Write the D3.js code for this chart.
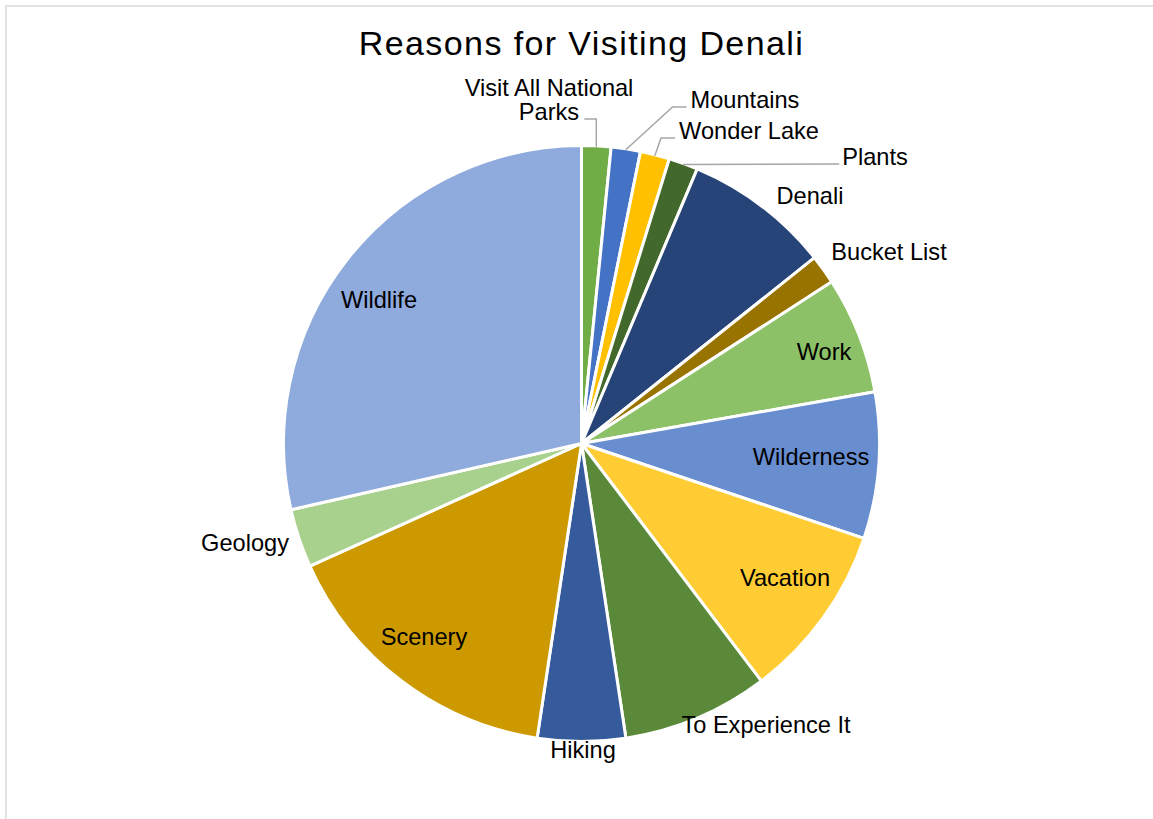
<!DOCTYPE html>
<html>
<head>
<meta charset="utf-8">
<script src="https://cdn.jsdelivr.net/npm/d3@7"></script>
<style>
  html, body { margin: 0; padding: 0; background: #fff; }
  svg { display: block; font-family: "Liberation Sans", Arial, Helvetica, sans-serif; }
</style>
</head>
<body>
<svg id="chart" width="1153" height="819"></svg>
<script>
// Survey responses: why people visit Denali (counts, clockwise from 12 o'clock)
const reasons = [
  "Visit All National Parks", "Mountains", "Wonder Lake", "Plants", "Denali",
  "Bucket List", "Work", "Wilderness", "Vacation", "To Experience It",
  "Hiking", "Scenery", "Geology", "Wildlife"
];
const counts = [1, 1, 1, 1, 5, 1, 4, 5, 6, 5, 3, 10, 2, 18];
const sliceColors = [
  "#70AD47", "#4472C4", "#FFC000", "#43682B", "#264478",
  "#997300", "#8CC168", "#698ED0", "#FFCD33", "#5A8A39",
  "#365B9D", "#CC9A00", "#A9D18E", "#8FAADC"
];
const chartTitle = "Reasons for Visiting Denali";

// Label placement (text centre x, baseline y) and whether a leader line is drawn
const labelLayout = {
  "Visit All National Parks": { x: 549, y: 96, lines: ["Visit All National", "Parks"], leader: "elbow-left" },
  "Mountains":   { x: 745, y: 108, leader: "elbow-right" },
  "Wonder Lake": { x: 749, y: 139, leader: "elbow-right" },
  "Plants":      { x: 875, y: 165, leader: "straight" },
  "Denali":      { x: 810, y: 204 },
  "Bucket List": { x: 889, y: 260 },
  "Work":        { x: 824, y: 360 },
  "Wilderness":  { x: 811, y: 465 },
  "Vacation":    { x: 785, y: 586 },
  "To Experience It": { x: 766, y: 733 },
  "Hiking":      { x: 583, y: 758 },
  "Scenery":     { x: 424, y: 645 },
  "Geology":     { x: 245, y: 551 },
  "Wildlife":    { x: 379, y: 308 }
};

const svg = d3.select("#chart");
const W = 1153, H = 819;
const cx = 581.5, cy = 443.5, radius = 298;
const fontSize = 23.6;
const lineStep = 24;

// chart area frame
svg.append("rect")
  .attr("x", 6).attr("y", 6)
  .attr("width", W + 20).attr("height", H + 20)
  .attr("fill", "#fff")
  .attr("stroke", "#D9D9D9").attr("stroke-width", 1.5);

// title
svg.append("text")
  .attr("x", cx).attr("y", 55)
  .attr("text-anchor", "middle")
  .attr("font-size", 34)
  .attr("letter-spacing", 1.4)
  .attr("fill", "#000")
  .text(chartTitle);

const data = reasons.map((r, i) => ({ reason: r, count: counts[i], color: sliceColors[i] }));

const pie = d3.pie().sort(null).value(d => d.count);
const arcs = pie(data);
const arc = d3.arc().innerRadius(0).outerRadius(radius);

const g = svg.append("g").attr("transform", `translate(${cx},${cy})`);

g.selectAll("path.slice")
  .data(arcs)
  .join("path")
  .attr("class", "slice")
  .attr("d", arc)
  .attr("fill", d => d.data.color)
  .attr("stroke", "#fff")
  .attr("stroke-width", 3)
  .attr("stroke-linejoin", "round");

function measure(str) {
  const t = svg.append("text").attr("font-size", fontSize).text(str);
  const w = t.node().getComputedTextLength();
  t.remove();
  return w;
}

// leader lines from the slice rim to its label
const leaderColor = "#A6A6A6";
arcs.forEach(a => {
  const lay = labelLayout[a.data.reason];
  if (!lay || !lay.leader) return;
  const mid = (a.startAngle + a.endAngle) / 2;
  const sx = cx + Math.sin(mid) * (radius - 1);
  const sy = cy - Math.cos(mid) * (radius - 1);
  let pts;
  if (lay.leader === "elbow-left") {
    const ey = lay.y + lineStep;           // beside the second line of text
    pts = [[sx, sy], [sx, ey - 1], [sx - 12, ey - 1]];
  } else if (lay.leader === "elbow-right") {
    const w = measure(a.data.reason);
    const lx = lay.x - w / 2 - 4;
    const ly = lay.y - 1;
    pts = [[sx, sy], [lx - 14, ly], [lx, ly]];
  } else {
    const w = measure(a.data.reason);
    const lx = lay.x - w / 2 - 3;
    pts = [[sx, sy], [lx, lay.y - 1]];
  }
  svg.append("path")
    .attr("d", d3.line()(pts))
    .attr("fill", "none")
    .attr("stroke", leaderColor)
    .attr("stroke-width", 1.5);
});

// slice labels
arcs.forEach(a => {
  const lay = labelLayout[a.data.reason];
  const lines = lay.lines || [a.data.reason];
  const t = svg.append("text")
    .attr("text-anchor", "middle")
    .attr("font-size", fontSize)
    .attr("fill", "#000");
  lines.forEach((ln, i) => {
    t.append("tspan")
      .attr("x", lay.x)
      .attr("y", lay.y + i * lineStep)
      .text(ln);
  });
});
</script>
</body>
</html>
